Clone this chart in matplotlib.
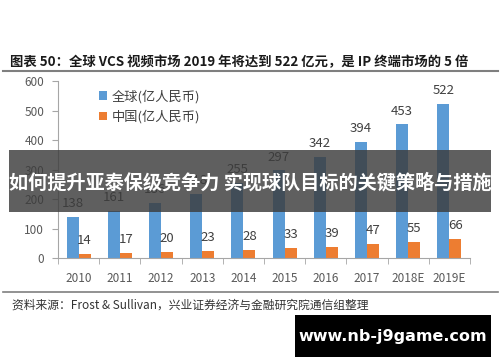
import numpy as np
import matplotlib
matplotlib.use('Agg')
import matplotlib.pyplot as plt
from matplotlib.patches import Rectangle
from matplotlib.lines import Line2D

plt.rcParams['font.family'] = ['Noto Sans CJK SC', 'DejaVu Sans']

years = ['2010', '2011', '2012', '2013', '2014', '2015', '2016', '2017', '2018E', '2019E']
world = [138, 161, 186, 218, 255, 297, 342, 394, 453, 522]
china = [14, 17, 20, 23, 28, 33, 39, 47, 55, 66]
series_names = ['全球(亿人民币)', '中国(亿人民币)']

BLUE = '#5B9BD5'
ORANGE = '#ED7D31'
GREY = '#595959'

fig = plt.figure(figsize=(5, 3.62), dpi=100)
ax = fig.add_axes([0.116, 0.287, 0.824, 0.489])

x = np.arange(len(years))
w = 0.29
b1 = ax.bar(x - w / 2, world, w, color=BLUE, label=series_names[0])
b2 = ax.bar(x + w / 2, china, w, color=ORANGE, label=series_names[1])

for rect, v in zip(b1, world):
    ax.annotate(str(v), (rect.get_x() + rect.get_width() / 2, v), xytext=(0, 5),
                textcoords='offset points', ha='center', va='bottom', fontsize=9.5, color='#404040')
for rect, v in zip(b2, china):
    ax.annotate(str(v), (rect.get_x() + rect.get_width() / 2, v), xytext=(0, 5),
                textcoords='offset points', ha='center', va='bottom', fontsize=9.5, color='#404040')

ax.set_xlim(-0.5, len(years) - 0.5)
ax.set_ylim(0, 600)
ax.set_yticks(range(0, 601, 100))
ax.set_xticks(x)
ax.set_xticklabels(years)
ax.set_xticks(np.arange(-0.5, len(years), 1), minor=True)
ax.tick_params(axis='x', which='major', length=0, pad=10, labelsize=8.5, colors=GREY)
ax.tick_params(axis='x', which='minor', length=4, color='#A6A6A6', direction='out')
ax.tick_params(axis='y', length=4, color='#A6A6A6', labelsize=8.5, colors=GREY, pad=6)
for s in ['top', 'right']:
    ax.spines[s].set_visible(False)
for s in ['left', 'bottom']:
    ax.spines[s].set_color('#A6A6A6')

ax.legend(loc='upper left', bbox_to_anchor=(0.07, 1.02), frameon=False, fontsize=9.5,
          handlelength=0.6, handleheight=0.6, handletextpad=0.4, labelspacing=0.5,
          labelcolor='#404040')

# title and rules
fig.text(0.02, 1 - 62 / 362, '图表 50：全球 VCS 视频市场 2019 年将达到 522 亿元，是 IP 终端市场的 5 倍',
         fontsize=9.6, fontweight='bold', va='center', ha='left', color='#1a1a1a')
fig.add_artist(Line2D([0.006, 0.996], [1 - 71 / 362] * 2, color='#7f7f7f', lw=1.5))
fig.add_artist(Line2D([0.006, 0.996], [1 - 292 / 362] * 2, color='#7f7f7f', lw=1.2))
fig.text(0.024, 1 - 305 / 362, '资料来源：Frost & Sullivan，兴业证券经济与金融研究院通信组整理',
         fontsize=8.5, va='center', ha='left', color='#333333')

# overlay banner
fig.add_artist(Rectangle((0.018, 1 - 212 / 362), 0.964, 62 / 362, transform=fig.transFigure,
                         facecolor='#3c3c3c', alpha=0.82, edgecolor='none', zorder=5))
fig.text(0.5, 1 - 183 / 362, '如何提升亚泰保级竞争力 实现球队目标的关键策略与措施',
         fontsize=13.8, fontweight='bold', color='white', ha='center', va='center', zorder=6)

fig.add_artist(Rectangle((0.59, 1 - 357 / 362), 0.392, 42 / 362, transform=fig.transFigure,
                         facecolor='black', edgecolor='none', zorder=5))
fig.text(0.786, 1 - 336 / 362, 'www.nb-j9game.com', fontsize=11.5, fontweight='bold',
         color='white', ha='center', va='center', zorder=6, family='DejaVu Sans')

fig.savefig('out.png', dpi=100)
